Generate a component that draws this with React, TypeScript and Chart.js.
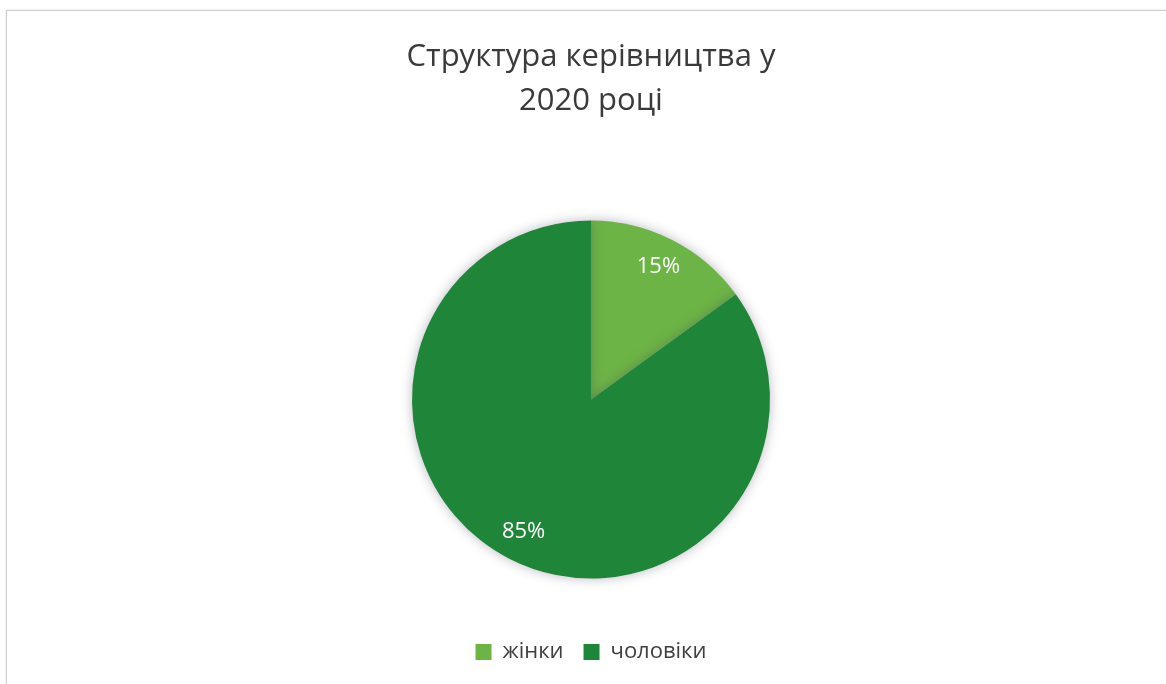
import React, { useEffect, useRef } from "react";
import { Chart, registerables } from "chart.js";

Chart.register(...registerables);

const categories = ["жінки", "чоловіки"];
const shares = [15, 85];
const sliceColors = ["#6DB446", "#1F8539"];
const titleLines = ["Структура керівництва у", "2020 році"];

const FONT = "'Open Sans', 'DejaVu Sans', sans-serif";

const labelPlugin = {
  id: "sliceLabels",
  beforeDatasetDraw(chart: any) {
    const ctx = chart.ctx;
    ctx.save();
    ctx.shadowColor = "rgba(60,60,90,0.35)";
    ctx.shadowBlur = 12;
    ctx.shadowOffsetX = 0;
    ctx.shadowOffsetY = 0;
  },
  afterDatasetDraw(chart: any) {
    chart.ctx.restore();
  },
  afterDatasetsDraw(chart: any) {
    const ctx = chart.ctx;
    const meta = chart.getDatasetMeta(0);
    const data = chart.data.datasets[0].data as number[];
    ctx.save();
    ctx.fillStyle = "#ffffff";
    ctx.font = `22px ${FONT}`;
    ctx.textAlign = "center";
    ctx.textBaseline = "middle";
    meta.data.forEach((arc: any, i: number) => {
      const p = arc.getProps(["startAngle", "endAngle", "outerRadius", "x", "y"], true);
      const mid = (p.startAngle + p.endAngle) / 2;
      const r = p.outerRadius * 0.83;
      ctx.fillText(`${data[i]}%`, p.x + Math.cos(mid) * r, p.y + Math.sin(mid) * r);
    });
    ctx.restore();
  },
};

export default function App() {
  const canvasRef = useRef<HTMLCanvasElement | null>(null);

  useEffect(() => {
    const chart = new Chart(canvasRef.current as HTMLCanvasElement, {
      type: "pie",
      data: {
        labels: categories,
        datasets: [
          {
            data: shares,
            backgroundColor: sliceColors,
            borderWidth: 0,
            radius: 179,
          },
        ],
      },
      plugins: [labelPlugin],
      options: {
        animation: false,
        responsive: true,
        maintainAspectRatio: false,
        layout: { padding: { left: 16, right: 0, top: 10, bottom: 11 } },
        plugins: {
          title: {
            display: true,
            text: titleLines,
            color: "#3a3a3a",
            font: { family: FONT, size: 31, weight: "normal", lineHeight: 1.42 },
            padding: { top: 25, bottom: 55 },
          },
          legend: {
            display: true,
            position: "bottom",
            labels: {
              color: "#404040",
              font: { family: FONT, size: 22 },
              boxWidth: 16,
              boxHeight: 16,
              padding: 20,
            },
          },
          tooltip: { enabled: false },
        },
      },
    });
    return () => chart.destroy();
  }, []);

  return (
    <div
      style={{
        position: "fixed",
        left: 0,
        top: 0,
        width: 1166,
        height: 684,
        background: "#ffffff",
        overflow: "hidden",
      }}
    >
      <div
        style={{
          position: "absolute",
          left: 6,
          top: 10,
          width: 1180,
          height: 700,
          border: "1px solid #cfcfcf",
          boxShadow: "0 0 2px rgba(0,0,0,0.15)",
        }}
      />
      <div style={{ position: "absolute", left: 0, top: 0, width: 1166, height: 684 }}>
        <canvas ref={canvasRef} />
      </div>
    </div>
  );
}
